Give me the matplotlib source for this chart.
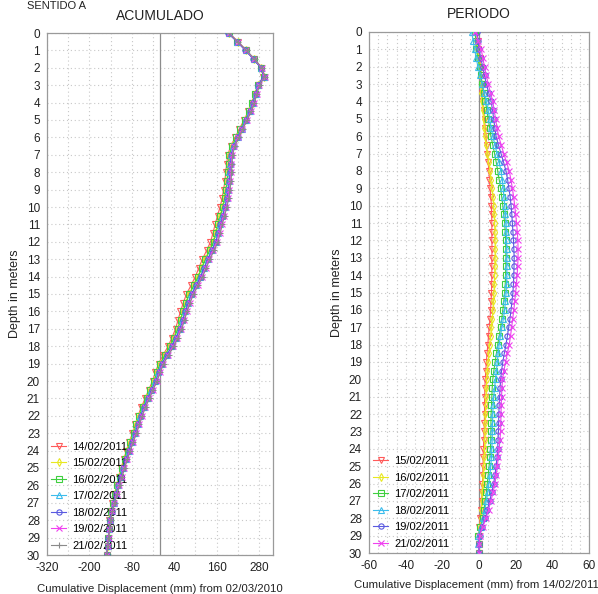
import numpy as np
import matplotlib
matplotlib.use('Agg')
import matplotlib.pyplot as plt

plt.rcParams['font.family'] = ['Liberation Sans', 'DejaVu Sans']
plt.rcParams['axes.unicode_minus'] = False

# depth of each reading (m)
depth = np.arange(0, 30.5, 0.5)

# cumulative displacement on 14/02/2011 (mm, from 02/03/2010)
cum_14feb = [196, 221, 244, 266, 286, 293, 277, 268, 260, 250,
             238, 225, 213, 200, 192, 189, 186, 184, 180, 176,
             170, 163, 156, 150, 143, 132, 120, 110, 100, 88,
             75, 66, 58, 51, 44, 34, 23, 9, -4, -13,
             -21, -32, -42, -53, -62, -70, -78, -87, -95, -103,
             -110, -117, -123, -129, -135, -140, -144, -145, -146, -148,
             -151]

# period displacement since 14/02/2011 (mm)
p_15feb = [-1.0, -0.8, -0.5, 0.3, 1.0, 1.2, 1.5, 1.8, 2.0, 2.6,
           3.0, 3.4, 3.9, 4.1, 4.5, 5.0, 5.4, 5.7, 6.0, 6.4,
           6.8, 6.9, 7.0, 7.0, 7.0, 7.1, 7.0, 7.0, 7.0, 6.9,
           6.8, 6.6, 6.3, 6.0, 5.6, 5.2, 4.8, 4.4, 4.0, 3.7,
           3.4, 3.2, 3.1, 3.0, 3.0, 2.9, 2.8, 2.6, 2.4, 2.3,
           2.2, 2.0, 1.9, 1.7, 1.4, 1.0, 0.6, 0.2, 0.0, 0.0,
           0.0]
p_16feb = [-2.0, -1.6, -1.0, -0.4, 0.3, 0.7, 1.0, 1.2, 1.5, 2.0,
           2.5, 2.9, 3.2, 3.8, 4.5, 5.3, 6.0, 6.5, 7.0, 7.5,
           8.0, 8.3, 8.5, 8.7, 8.8, 8.8, 8.8, 8.7, 8.5, 8.4,
           8.2, 7.9, 7.6, 7.2, 6.8, 6.3, 5.8, 5.4, 5.0, 4.6,
           4.2, 4.0, 3.8, 3.6, 3.5, 3.4, 3.3, 3.1, 3.0, 2.8,
           2.6, 2.4, 2.2, 1.9, 1.6, 1.3, 1.0, 0.4, 0.0, 0.0,
           0.0]
p_17feb = [-2.0, -1.8, -1.5, -0.6, 0.3, 1.0, 1.8, 2.6, 3.5, 4.3,
           5.0, 5.8, 6.5, 7.5, 8.5, 9.4, 10.2, 11.0, 11.8, 12.4,
           13.0, 13.5, 14.0, 14.3, 14.5, 14.6, 14.7, 14.6, 14.5, 14.3,
           14.0, 13.5, 13.0, 12.4, 11.8, 11.0, 10.2, 9.5, 8.8, 8.1,
           7.5, 7.2, 7.0, 6.8, 6.6, 6.5, 6.5, 6.4, 6.2, 5.9,
           5.5, 5.0, 4.5, 4.0, 3.4, 2.7, 2.0, 0.8, -0.3, -0.2,
           0.0]
p_18feb = [-4.0, -3.2, -2.4, -1.5, -0.6, 0.5, 1.5, 2.8, 4.0, 5.0,
           5.8, 6.6, 7.5, 8.7, 9.8, 11.0, 12.0, 12.7, 13.2, 13.6,
           14.0, 14.4, 14.8, 14.9, 15.0, 15.1, 15.2, 15.2, 15.2, 15.0,
           14.8, 14.4, 14.0, 13.3, 12.5, 11.7, 11.0, 10.5, 10.0, 9.5,
           9.0, 8.5, 8.0, 7.7, 7.5, 7.4, 7.3, 7.2, 7.0, 6.8,
           6.4, 6.0, 5.4, 4.8, 4.0, 3.2, 2.4, 1.0, -0.5, -0.3,
           0.0]
p_19feb = [-1.0, -0.5, 0.0, 1.0, 2.0, 3.0, 4.0, 5.3, 6.6, 7.4,
           8.0, 8.6, 9.3, 10.6, 12.0, 13.4, 14.7, 15.6, 16.3, 17.0,
           17.5, 17.9, 18.2, 18.5, 18.8, 19.0, 19.2, 19.1, 19.0, 18.8,
           18.5, 18.0, 17.5, 16.9, 16.2, 15.5, 14.7, 13.8, 13.0, 12.3,
           11.8, 11.5, 11.2, 11.0, 10.8, 10.7, 10.6, 10.4, 10.2, 9.8,
           9.3, 8.7, 8.0, 7.0, 5.8, 4.6, 3.5, 1.8, 0.3, 0.1,
           0.0]
p_21feb = [-2.0, -0.4, 1.2, 2.1, 3.0, 4.0, 5.0, 6.3, 7.5, 8.3,
           9.0, 9.8, 10.7, 12.1, 13.5, 15.0, 16.5, 17.4, 18.2, 18.9,
           19.5, 20.0, 20.5, 20.9, 21.2, 21.3, 21.3, 21.1, 20.8, 20.4,
           20.0, 19.5, 19.0, 18.4, 17.8, 17.2, 16.5, 15.5, 14.5, 13.6,
           12.8, 12.5, 12.3, 12.1, 12.0, 11.9, 11.8, 11.4, 11.0, 10.5,
           10.0, 9.4, 8.7, 7.7, 6.5, 5.2, 3.9, 2.0, 0.3, 0.1,
           0.0]

dates = ['14/02/2011', '15/02/2011', '16/02/2011', '17/02/2011',
         '18/02/2011', '19/02/2011', '21/02/2011']
period = [p_15feb, p_16feb, p_17feb, p_18feb, p_19feb, p_21feb]

colors = ['#ff5a5a', '#e8e820', '#3fcf3f', '#3cbcec', '#5a5ae0', '#f040f0', '#8a8a8a']
markers = ['v', 'd', 's', '^', 'o', 'x', '+']

# cumulative profiles = 14/02 profile + displacement of the period
cumulative = [np.array(cum_14feb, dtype=float)]
for p in period:
    cumulative.append(np.array(cum_14feb, dtype=float) + np.array(p))

fig = plt.figure(figsize=(5.98, 5.94), dpi=100)
fig.patch.set_facecolor('white')

ax1 = fig.add_axes([47 / 598, 39 / 594, 226 / 598, 522 / 594])
ax2 = fig.add_axes([369 / 598, 41 / 594, 220 / 598, 521 / 594])


def style_axis(ax, xlim, xticks, xgrid):
    ax.set_xlim(*xlim)
    ax.set_ylim(30, 0)
    ax.set_xticks(xticks)
    ax.set_xticks(xgrid, minor=True)
    ax.set_yticks(np.arange(0, 31, 1))
    ax.tick_params(length=0, which='both', labelsize=8.5, colors='#222222', pad=5)
    for s in ax.spines.values():
        s.set_color('#9a9a9a')
        s.set_linewidth(0.9)
    ax.grid(True, which='both', axis='x', linestyle=(0, (1, 2.5)), color='#c8c8c8', linewidth=0.8)
    ax.grid(True, which='major', axis='y', linestyle=(0, (1, 2.5)), color='#c8c8c8', linewidth=0.8)
    ax.axvline(0, color='#8c8c8c', linewidth=0.9, zorder=1)
    ax.set_axisbelow(True)
    ax.set_ylabel('Depth in meters', fontsize=9, labelpad=4, color='#222222')


legend_kw = dict(loc='lower left', bbox_to_anchor=(0.0, 0.0), frameon=False, fontsize=8,
                 handlelength=1.3, handletextpad=0.6, labelspacing=0.58, borderpad=0.2,
                 borderaxespad=0.2)

# left: cumulative
for i, vals in enumerate(cumulative):
    ax1.plot(vals, depth, color=colors[i], marker=markers[i], markersize=3.8,
             markerfacecolor='none', markeredgewidth=0.8, linewidth=0.8,
             label=dates[i], zorder=2 + i)
style_axis(ax1, (-320, 320), [-320, -200, -80, 40, 160, 280], np.arange(-320, 321, 60))
ax1.set_title('ACUMULADO', fontsize=10, pad=9, color='#222222')
ax1.set_xlabel('Cumulative Displacement (mm) from 02/03/2010', fontsize=8.2,
               labelpad=7, color='#222222')
ax1.legend(**legend_kw)

# right: period
for i, vals in enumerate(period):
    ax2.plot(vals, depth, color=colors[i], marker=markers[i], markersize=3.8,
             markerfacecolor='none', markeredgewidth=0.8, linewidth=0.8,
             label=dates[i + 1], zorder=2 + i)
style_axis(ax2, (-60, 60), [-60, -40, -20, 0, 20, 40, 60], np.arange(-60, 61, 5))
ax2.set_title('PERIODO', fontsize=10, pad=10, color='#222222')
ax2.set_xlabel('Cumulative Displacement (mm) from 14/02/2011', fontsize=8.2,
               labelpad=6, color='#222222')
# keep the long label inside the figure edge
ax2.xaxis.set_label_coords(0.49, -0.052)
ax2.xaxis.label.set_horizontalalignment('center')
ax2.legend(**legend_kw)

fig.text(27 / 598, 1 - 1 / 594, 'SENTIDO A', fontsize=8, ha='left', va='top',
         color='#222222')

fig.savefig('out.png', dpi=100)
